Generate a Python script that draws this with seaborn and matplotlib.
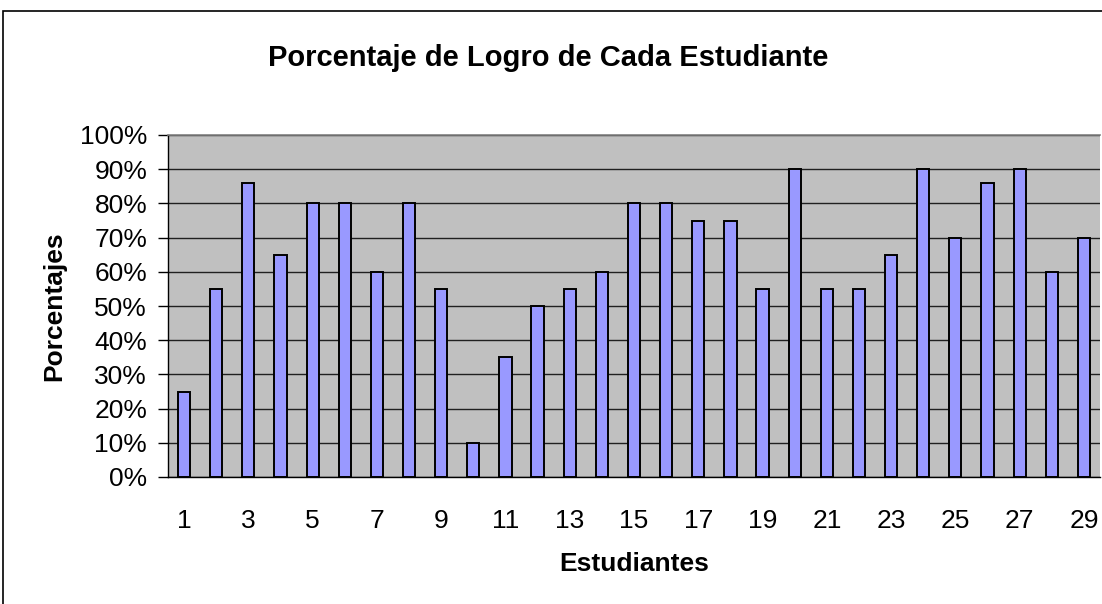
import matplotlib
matplotlib.use("Agg")
import matplotlib.pyplot as plt
import seaborn as sns
import pandas as pd
from matplotlib.patches import Rectangle
from matplotlib.ticker import FixedLocator, FuncFormatter

# Datos: porcentaje de logro por estudiante
estudiantes = list(range(1, 30))
porcentajes = [25, 55, 86, 65, 80, 80, 60, 80, 55, 10,
               35, 50, 55, 60, 80, 80, 75, 75, 55, 90,
               55, 55, 65, 90, 70, 86, 90, 60, 70]

df = pd.DataFrame({"Estudiantes": estudiantes, "Porcentajes": porcentajes})

sns.set_style("white")
plt.rcParams['font.family'] = ['Liberation Sans', 'DejaVu Sans']

fig = plt.figure(figsize=(11.02, 6.04), dpi=100)
ax = fig.add_axes([168 / 1102, 1 - 477 / 604, 932 / 1102, 342 / 604])
ax.set_facecolor("#C0C0C0")

sns.barplot(data=df, x="Estudiantes", y="Porcentajes", color="#9999FF",
            saturation=1, width=0.38, edgecolor="black", linewidth=1.4,
            ax=ax, zorder=3)

ax.set_ylim(0, 100)
ax.set_xlim(-0.5, len(estudiantes) - 0.5)
ax.set_yticks(range(0, 101, 10))
ax.yaxis.set_major_formatter(FuncFormatter(lambda v, p: f"{int(v)}%"))
ax.yaxis.grid(True, color="#202020", linewidth=1.0, zorder=0)
ax.set_axisbelow(True)

# Etiquetas x cada dos estudiantes, marcas entre categorías
ax.set_xticks(range(0, len(estudiantes), 2))
ax.set_xticklabels([str(e) for e in estudiantes[::2]])
ax.xaxis.set_minor_locator(FixedLocator([i - 0.5 for i in range(len(estudiantes) + 1)]))
ax.tick_params(axis="x", which="major", length=0, pad=23, labelsize=19, labelcolor="black")
ax.tick_params(axis="x", which="minor", length=7, width=1, color="black", direction="out")
ax.tick_params(axis="y", which="major", length=7, width=1, color="black",
               direction="out", pad=8, labelsize=19, left=True, labelcolor="black")

ax.spines["top"].set_color("#808080")
ax.spines["top"].set_linewidth(1.2)
ax.spines["right"].set_visible(False)
ax.spines["left"].set_color("black")
ax.spines["bottom"].set_color("black")
ax.spines["left"].set_linewidth(1.0)
ax.spines["bottom"].set_linewidth(1.0)

ax.set_xlabel("Estudiantes", fontsize=19, fontweight="bold", labelpad=14, color="black")
ax.set_ylabel("Porcentajes", fontsize=19, fontweight="bold", labelpad=10, color="black")
fig.text(0.497, 1 - 58 / 604, "Porcentaje de Logro de Cada Estudiante",
         ha="center", va="center", fontsize=21, fontweight="bold", color="black")

# Marco del gráfico
fig.patches.append(Rectangle((3 / 1102, -0.1), 1.2, 1.1 - 11 / 604,
                             transform=fig.transFigure, fill=False,
                             edgecolor="black", linewidth=1.2))

fig.savefig("out.png", dpi=100)
